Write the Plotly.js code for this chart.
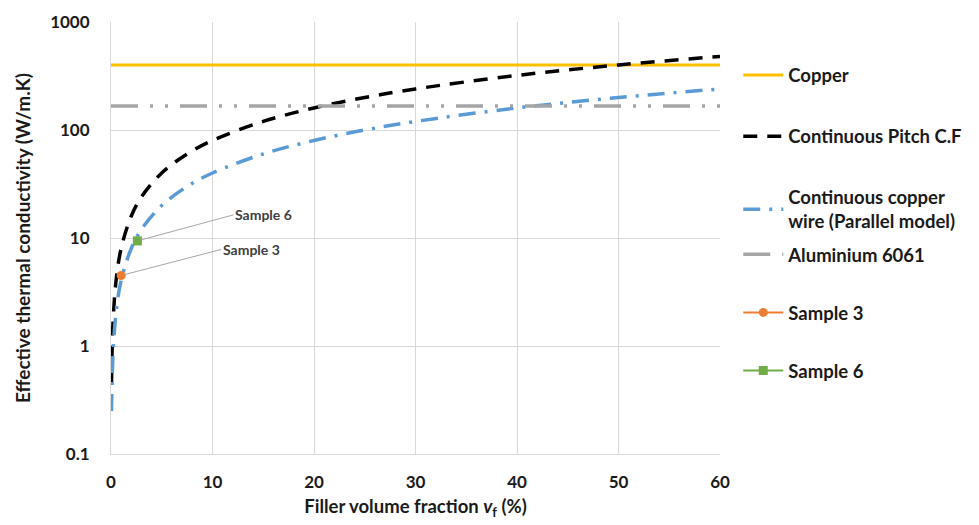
<!DOCTYPE html>
<html>
<head>
<meta charset="utf-8">
<script src="https://cdn.plot.ly/plotly-3.0.1.min.js"></script>
<style>body{margin:0;background:#fff}#chart{width:979px;height:525px}</style>
</head>
<body>
<div id="chart"></div>
<script>
// Reference lines (W/m.K)
var refX = [0, 60];
var copperK = [400, 400];
var aluminiumK = [167, 167];

// Continuous pitch carbon fibre
var pitchVf = [0.05, 0.1, 0.2, 0.5, 1, 2, 3, 5, 7.5, 10, 15, 20, 25, 30, 40, 50, 60];
var pitchK  = [0.45, 0.85, 1.65, 4.05, 8.0, 16, 24, 40, 60, 80, 120, 160, 200, 240, 320, 400, 480];

// Continuous copper wire (parallel model)
var wireVf = [0.05, 0.1, 0.2, 0.5, 1, 2, 3, 5, 7.5, 10, 15, 20, 25, 30, 40, 50, 60];
var wireK  = [0.25, 0.45, 0.85, 2.05, 4.05, 8.0, 12, 20, 30, 40, 60, 80, 100, 120, 160, 200, 240];

// Samples
var sample3Vf = [1.0];
var sample3K = [4.5];
var sample6Vf = [2.6];
var sample6K = [9.4];

var xTicks = [0, 10, 20, 30, 40, 50, 60];
var yTicks = [0.1, 1, 10, 100, 1000];
var yTickText = ['0.1', '1', '10', '100', '1000'];

var FONT = 'Lato, "Open Sans", sans-serif';
var TXT = '#1a1a1a';
var legendFont = {family: FONT, size: 18.5, color: TXT, weight: 'bold'};

var traces = [
  {x: refX, y: copperK, mode: 'lines', name: 'Copper', legendgroup: 'a', legend: 'legend',
   line: {color: '#FFC000', width: 3}},
  {x: pitchVf, y: pitchK, mode: 'lines', name: 'Continuous Pitch C.F', legendgroup: 'b', legend: 'legend',
   line: {color: '#000000', width: 3.5, dash: '14px,10px', shape: 'spline'}},
  {x: wireVf, y: wireK, mode: 'lines', name: 'Continuous copper<br>wire (Parallel model)', legendgroup: 'c', legend: 'legend',
   line: {color: '#5B9BD5', width: 3.5, dash: '17px,9px,3px,9px', shape: 'spline'}},
  {x: refX, y: aluminiumK, mode: 'lines', name: 'Aluminium 6061', legendgroup: 'd', legend: 'legend2',
   line: {color: '#A5A5A5', width: 3.5, dash: '27px,12px,3px,12px,3px,12px'}},
  {x: sample3Vf, y: sample3K, mode: 'lines+markers', name: 'Sample 3', legendgroup: 'e', legend: 'legend2',
   line: {color: '#ED7D31', width: 2}, marker: {color: '#ED7D31', size: 9, symbol: 'circle'}},
  {x: sample6Vf, y: sample6K, mode: 'lines+markers', name: 'Sample 6', legendgroup: 'f', legend: 'legend2',
   line: {color: '#70AD47', width: 2}, marker: {color: '#70AD47', size: 9, symbol: 'square'}}
];

var layout = {
  width: 979, height: 525,
  margin: {l: 111, r: 259, t: 22, b: 71},
  paper_bgcolor: '#ffffff', plot_bgcolor: '#ffffff',
  font: {family: FONT, color: TXT},
  showlegend: true,
  legend: {
    x: 1.03, xanchor: 'left', y: 0.92, yanchor: 'top',
    traceorder: 'grouped', tracegroupgap: 34,
    font: legendFont, itemwidth: 40
  },
  legend2: {
    x: 1.03, xanchor: 'left', y: 0.505, yanchor: 'top',
    traceorder: 'grouped', tracegroupgap: 31,
    font: legendFont, itemwidth: 40
  },
  xaxis: {
    range: [0, 60], tickvals: xTicks, ticktext: xTicks.map(String),
    showgrid: true, gridcolor: '#D9D9D9', gridwidth: 1,
    showline: true, linecolor: '#D9D9D9', linewidth: 1,
    zeroline: false, mirror: false,
    ticks: 'outside', ticklen: 13, tickcolor: 'rgba(0,0,0,0)',
    tickfont: {family: FONT, size: 17, color: TXT, weight: 'bold'},
    title: {text: 'Filler volume fraction <i>v</i><sub>f</sub> (%)', standoff: 8,
            font: {family: FONT, size: 18.5, color: TXT, weight: 'bold'}}
  },
  yaxis: {
    type: 'log', range: [-1, 3], tickvals: yTicks, ticktext: yTickText,
    showgrid: true, gridcolor: '#D9D9D9', gridwidth: 1,
    showline: true, linecolor: '#D9D9D9', linewidth: 1,
    zeroline: false,
    ticks: 'outside', ticklen: 17, tickcolor: 'rgba(0,0,0,0)',
    tickfont: {family: FONT, size: 17, color: TXT, weight: 'bold'},
    title: {text: 'Effective thermal conductivity (W/m.K)', standoff: 14,
            font: {family: FONT, size: 19, color: TXT, weight: 'bold'}}
  },
  annotations: [
    {x: sample6Vf[0], y: Math.log10(sample6K[0]), xref: 'x', yref: 'y',
     text: 'Sample 6', showarrow: true, arrowhead: 0, arrowwidth: 1, arrowcolor: '#A6A6A6',
     ax: 96, ay: -26, xanchor: 'left', standoff: 3,
     font: {family: FONT, size: 14, color: '#404040', weight: 'bold'}},
    {x: sample3Vf[0], y: Math.log10(sample3K[0]), xref: 'x', yref: 'y',
     text: 'Sample 3', showarrow: true, arrowhead: 0, arrowwidth: 1, arrowcolor: '#A6A6A6',
     ax: 100, ay: -26, xanchor: 'left', standoff: 3,
     font: {family: FONT, size: 14, color: '#404040', weight: 'bold'}}
  ]
};

Plotly.newPlot('chart', traces, layout, {displayModeBar: false, staticPlot: true});
</script>
</body>
</html>
